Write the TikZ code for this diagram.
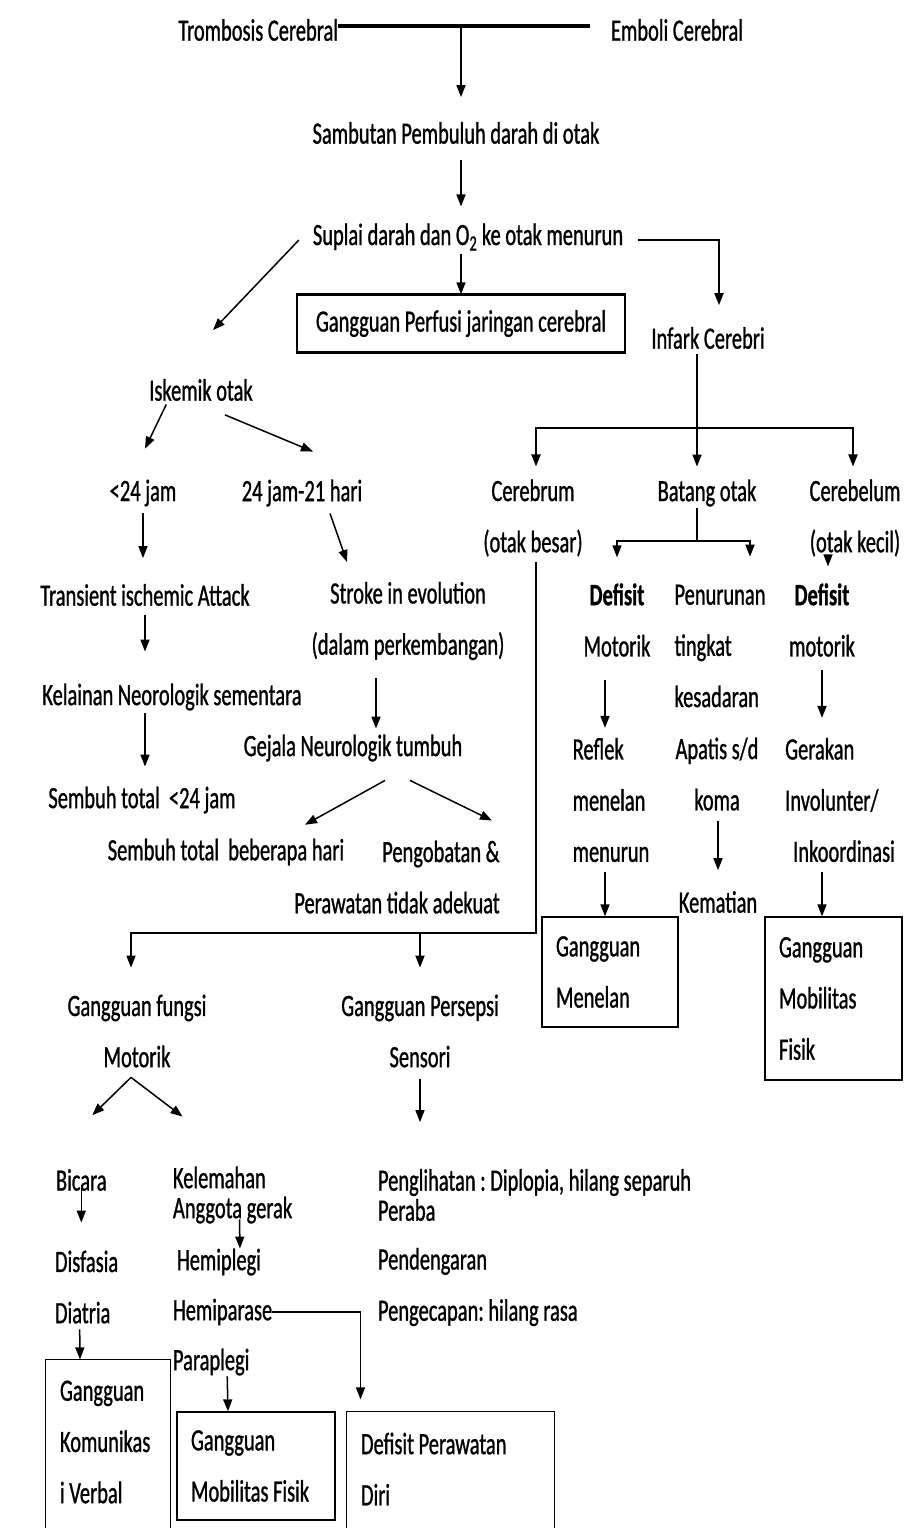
\documentclass[tikz,border=0pt]{standalone}
\usepackage{fontspec}
\setmainfont{Carlito}[FakeStretch=0.66, FakeBold=0.9]
\usetikzlibrary{arrows.meta, positioning, calc}
\newcommand{\flowfont}{\fontsize{31}{51.2}\selectfont}
\newcommand{\flowtight}{\fontsize{31}{30}\selectfont}
\frenchspacing
\tikzset{
    >={Triangle[width=9pt,length=12pt]},
    flow_text/.style={
        inner sep=0pt,
        outer sep=0pt,
        font=\flowfont
    },
    flow_box/.style={
        rectangle,
        draw=black,
        line width=1.3pt,
        inner xsep=14pt,
        inner ysep=0pt,
        align=flush left,
        font=\flowfont
    },
    flow_frame/.style={
        line width=1.3pt
    },
    flow_arrow/.style={
        ->,
        line width=1.5pt
    },
    flow_line/.style={
        line width=1.5pt
    },
    flow_heavy/.style={
        line width=2.6pt,
        line cap=rect
    }
}

\begin{document}
\begin{tikzpicture}[x=1pt, y=-1pt]
\useasboundingbox (0,0) rectangle (907,1528);

% --- Top ---
\node[flow_text, anchor=east] (Trombosis) at (338,30) {Trombosis Cerebral};
\node[flow_text, right=273pt of Trombosis] (Emboli) {Emboli Cerebral};
\coordinate (TopJoin) at (461,26);
\coordinate (TopEnd) at (590,26);
\node[flow_text] (Sambutan) at (456,133) {Sambutan Pembuluh darah di otak};
\node[flow_text] (Suplai) at (468,237) {Suplai darah dan O\textsubscript{2} ke otak menurun};
\node[flow_box, align=flush center, inner xsep=0pt, minimum width=328pt, minimum height=57pt] (Perfusi) at (461,323.5) {Gangguan Perfusi jaringan cerebral};
\node[flow_text] (Infark) at (708,338) {Infark Cerebri};
\node[flow_text] (Iskemik) at (201,390) {Iskemik otak};

% --- Iskemik branch ---
\node[flow_text] (Under24) at (143,493) {<24 jam};
\node[flow_text] (Hari21) at (302,493) {24 jam-21 hari};
\node[flow_text] (TIA) at (145,595) {Transient ischemic Attack};
\node[flow_text, align=flush center] (Stroke) at (408,621) {Stroke in evolution\\(dalam perkembangan)};
\node[flow_text] (Kelainan) at (172,697) {Kelainan Neorologik sementara};
\node[flow_text] (Gejala) at (353,748) {Gejala Neurologik tumbuh};
\node[flow_text] (SembuhA) at (142,800) {Sembuh total\ \ <24 jam};
\node[flow_text] (SembuhB) at (226,852) {Sembuh total\ \ beberapa hari};
\node[flow_text, align=flush right] (Pengobatan) at (397,877) {Pengobatan \&\\Perawatan tidak adekuat};

% --- Infark branch ---
\node[flow_text, align=flush center] (Cerebrum) at (533,518) {Cerebrum\\(otak besar)};
\node[flow_text] (Batang) at (707,493) {Batang otak};
\node[flow_text, align=flush center] (Cerebelum) at (855,518) {Cerebelum\\(otak kecil)};
\node[flow_text, align=flush center] (DefMotorik) at (617,620) {\textbf{Defisit}\\Motorik};
\node[flow_text, align=flush left] (Reflek) at (611,800) {Reflek\\menelan\\menurun};
\node[flow_box, text width=108pt, minimum height=110pt] (Menelan) at (610,972) {Gangguan\\Menelan};
\node[flow_text, align=flush left] (Penurunan) at (720,646) {Penurunan\\tingkat\\kesadaran};
\node[flow_text, align=flush center] (Apatis) at (717,774) {Apatis s/d\\koma};
\node[flow_text] (Kematian) at (718,902) {Kematian};
\node[flow_text, align=flush center] (DefMotorikCb) at (822,620) {\textbf{Defisit}\\motorik};
\node[flow_text, align=flush left] (Gerakan) at (840,800) {Gerakan\\Involunter/\\\hspace*{8pt}Inkoordinasi};
\node[flow_box, text width=109pt, minimum height=163pt] (MobilitasA) at (833.5,998.5) {Gangguan\\Mobilitas\\Fisik};

% --- Cerebrum consequences ---
\node[flow_text, align=flush center] (Fungsi) at (137,1031) {Gangguan fungsi\\Motorik};
\node[flow_text, align=flush center] (Persepsi) at (420,1031) {Gangguan Persepsi\\Sensori};
\node[flow_text, anchor=west] (Bicara) at (56,1180) {Bicara};
\node[flow_text, align=flush left, anchor=west] (Disfasia) at (55,1287) {Disfasia\\Diatria};
\node[flow_text, font=\flowtight, align=flush left, anchor=west] (Kelemahan) at (173,1195) {Kelemahan\\Anggota gerak};
\node[flow_text, anchor=west] (Hemiplegi) at (177,1262) {Hemiplegi};
\node[flow_text, anchor=west] (Hemiparase) at (173,1312) {Hemiparase};
\node[flow_text, anchor=west] (Paraplegi) at (173,1362) {Paraplegi};
\node[flow_text, font=\flowtight, align=flush left, anchor=west] (IndraA) at (378,1195) {Penglihatan : Diplopia, hilang separuh\\Peraba};
\node[flow_text, align=flush left, anchor=west] (IndraB) at (378,1287) {Pendengaran\\Pengecapan: hilang rasa};
\node[flow_box, draw=none, text width=96pt, minimum height=164pt] (Komunikasi) at (108,1442) {Gangguan\\Komunikas\\i Verbal};
\node[flow_box, text width=130pt, minimum height=108pt] (MobilitasB) at (256,1466) {Gangguan\\Mobilitas Fisik};
\node[flow_box, draw=none, text width=179pt, minimum height=114pt] (Perawatan) at (450.5,1469) {Defisit Perawatan\\Diri};

% --- Box borders ---
\draw[line width=3pt] (Perfusi.north west) -- (Perfusi.north east);
\draw[line width=3pt] (Perfusi.south west) -- (Perfusi.south east);
\draw[flow_frame] ([yshift=-30pt]Komunikasi.south west) -- (Komunikasi.north west) -- (Komunikasi.north east) -- ([yshift=-30pt]Komunikasi.south east);
\draw[flow_frame] ([yshift=-30pt]Perawatan.south west) -- (Perawatan.north west) -- (Perawatan.north east) -- ([yshift=-30pt]Perawatan.south east);

% --- Edges: top ---
\draw[line width=3.5pt] (Trombosis.east |- TopEnd) -- (TopEnd);
\draw[flow_arrow, shorten >=25pt] (TopJoin) -- (TopJoin |- Sambutan.north);
\draw[flow_arrow, shorten <=16pt, shorten >=17pt] (Sambutan.south -| TopJoin) -- (Suplai.north -| TopJoin);
\draw[flow_arrow, shorten <=3pt] (Suplai.south -| Perfusi.north) -- (Perfusi.north);
\draw[flow_arrow, line width=2pt, shorten >=22pt] ([xshift=15pt,yshift=-3pt]Suplai.east) -| ([xshift=11pt]Infark.north);
\draw[flow_arrow] ([xshift=-14pt,yshift=-3pt]Suplai.west) -- ([xshift=12pt,yshift=49pt]Iskemik.north);

% --- Edges: Iskemik ---
\draw[flow_arrow, shorten <=4pt] ([xshift=-33pt]Iskemik.south) -- ([xshift=2pt,yshift=31pt]Under24.north);
\draw[flow_arrow] ([xshift=24pt,yshift=-14pt]Iskemik.south) -- ([xshift=11pt,yshift=28pt]Hari21.north);
\draw[flow_arrow, shorten <=7pt, shorten >=26pt] (Under24.south) -- (Under24.south |- TIA.north);
\draw[flow_arrow] ([xshift=28pt,yshift=-7pt]Hari21.south) -- ([xshift=-61pt,yshift=20pt]Stroke.north);
\draw[flow_arrow, shorten <=9pt, shorten >=32pt] (TIA.south) -- (TIA.south |- Kelainan.north);
\draw[flow_arrow, shorten <=3pt, shorten >=20pt] (Kelainan.south -| TIA.south) -- (SembuhA.north -| TIA.south);
\draw[flow_arrow, shorten <=18pt, shorten >=6pt] ([xshift=-32pt]Stroke.south) -- ([xshift=23pt]Gejala.north);
\draw[flow_arrow] ([xshift=32pt,yshift=-19pt]Gejala.south) -- ([xshift=79pt,yshift=14pt]SembuhB.north);
\draw[flow_arrow] ([xshift=57pt,yshift=-19pt]Gejala.south) -- ([xshift=95pt,yshift=20pt]Pengobatan.north);

% --- Edges: Infark ---
\coordinate (InfSplit) at (697,428);
\draw[flow_heavy, shorten <=6pt] ([xshift=-11pt]Infark.south) -- (InfSplit);
\draw[flow_heavy] ([xshift=3pt]Cerebrum.north |- InfSplit) -- ([xshift=-2pt]Cerebelum.north |- InfSplit);
\draw[flow_arrow, line width=1.8pt, shorten >=13pt] (InfSplit) -| ([xshift=3pt]Cerebrum.north);
\draw[flow_arrow, line width=1.8pt, shorten >=13pt] (InfSplit) -- (InfSplit |- Batang.north);
\draw[flow_arrow, line width=1.8pt, shorten >=13pt] (InfSplit) -| ([xshift=-2pt]Cerebelum.north);

\coordinate (BatSplit) at (697,541);
\draw[flow_line, shorten <=2pt] ([xshift=-10pt]Batang.south) -- (BatSplit);
\draw[flow_arrow, shorten >=26pt] (BatSplit) -| (DefMotorik.north);
\draw[flow_arrow, shorten >=28pt] (BatSplit) -| ([xshift=30pt]Penurunan.north);
\draw[flow_arrow, shorten <=-6pt, shorten >=17pt] ([xshift=-27pt]Cerebelum.south) -- ([xshift=6pt]DefMotorikCb.north);

\draw[flow_arrow, shorten <=23pt, shorten >=10pt] ([xshift=-12pt]DefMotorik.south) -- ([xshift=-6pt]Reflek.north);
\draw[flow_arrow, shorten <=10pt] ([xshift=-6pt]Reflek.south) -- ([xshift=-5pt]Menelan.north);
\draw[flow_arrow, shorten <=11pt, shorten >=21pt] (Apatis.south -| Kematian.north) -- (Kematian.north);
\draw[flow_arrow, shorten <=13pt, shorten >=20pt] (DefMotorikCb.south) -- (DefMotorikCb.south |- Gerakan.north);
\draw[flow_arrow, shorten <=10pt] (DefMotorikCb.south |- Gerakan.south) -- (DefMotorikCb.south |- MobilitasA.north);

% --- Edges: Cerebrum ---
\coordinate (CerSplit) at (536,933);
\coordinate (CerLeft) at (131,933);
\draw[flow_heavy, shorten <=7pt] ([xshift=3pt]Cerebrum.south) -- (CerSplit);
\draw[flow_heavy] (CerSplit) -- (CerLeft);
\draw[flow_arrow, shorten >=27pt] (CerLeft) -- (CerLeft |- Fungsi.north);
\draw[flow_arrow, shorten >=27pt] (CerSplit -| Persepsi.north) -- (Persepsi.north);

\draw[flow_arrow] ([xshift=-6pt,yshift=-10pt]Fungsi.south) -- ([xshift=11pt,yshift=54pt]Bicara.north);
\draw[flow_arrow] ([xshift=-6pt,yshift=-10pt]Fungsi.south) -- ([xshift=-50pt,yshift=50pt]Kelemahan.north);
\draw[flow_arrow, shorten <=12pt, shorten >=47pt] (Persepsi.south) -- (Persepsi.south |- IndraA.north);

\draw[flow_arrow, shorten <=5pt, shorten >=28pt] (Bicara.center) -- (Bicara.center |- Disfasia.north);
\draw[flow_arrow, shorten <=-4pt] ([xshift=7pt]Kelemahan.south) -- ([xshift=21pt]Hemiplegi.north);
\draw[flow_arrow, shorten <=6pt] ([xshift=-7pt]Disfasia.south) -- ([xshift=-28pt]Komunikasi.north);
\draw[flow_arrow, shorten >=12pt] (Hemiparase.east) -| ([xshift=-90pt]Perawatan.north);
\draw[flow_arrow, shorten <=1pt] ([xshift=16pt]Paraplegi.south) -- ([xshift=-28pt]MobilitasB.north);

\end{tikzpicture}
\end{document}
